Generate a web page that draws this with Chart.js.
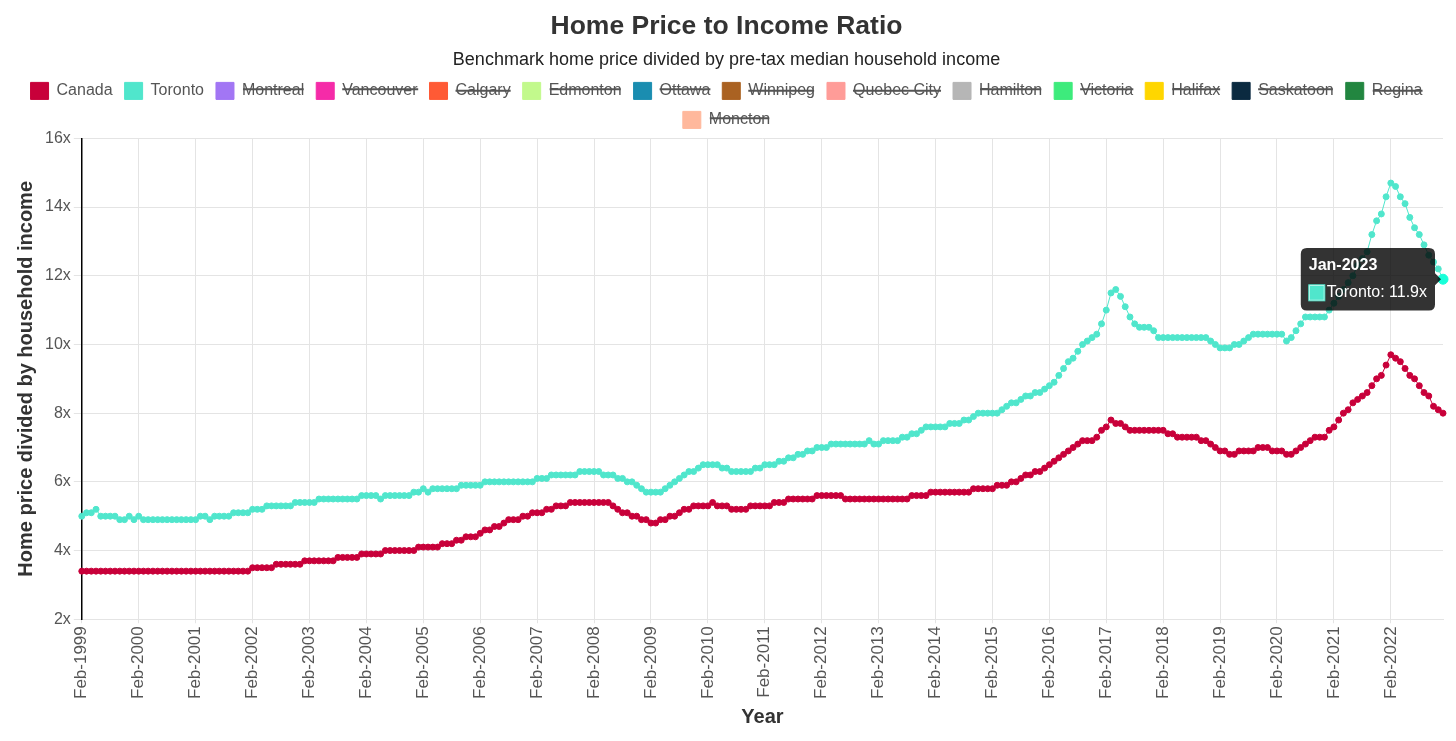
<!DOCTYPE html>
<html>
<head>
<meta charset="utf-8">
<title>Home Price to Income Ratio</title>
<script src="https://cdn.jsdelivr.net/npm/chart.js@4.4.1/dist/chart.umd.min.js"></script>
<style>
    html, body { margin: 0; padding: 0; background: #fff; }
    #wrap { width: 1456px; height: 741px; }
</style>
</head>
<body>
<div id="wrap"><canvas id="ratioChart" width="1456" height="741"></canvas></div>
<script>
// monthly series, Feb-1999 .. Jan-2023 (one row = Feb..Jan)
const canadaRatio = [
    3.4,3.4,3.4,3.4,3.4,3.4,3.4,3.4,3.4,3.4,3.4,3.4, // 1999
    3.4,3.4,3.4,3.4,3.4,3.4,3.4,3.4,3.4,3.4,3.4,3.4, // 2000
    3.4,3.4,3.4,3.4,3.4,3.4,3.4,3.4,3.4,3.4,3.4,3.4, // 2001
    3.5,3.5,3.5,3.5,3.5,3.6,3.6,3.6,3.6,3.6,3.6,3.7, // 2002
    3.7,3.7,3.7,3.7,3.7,3.7,3.8,3.8,3.8,3.8,3.8,3.9, // 2003
    3.9,3.9,3.9,3.9,4.0,4.0,4.0,4.0,4.0,4.0,4.0,4.1, // 2004
    4.1,4.1,4.1,4.1,4.2,4.2,4.2,4.3,4.3,4.4,4.4,4.4, // 2005
    4.5,4.6,4.6,4.7,4.7,4.8,4.9,4.9,4.9,5.0,5.0,5.1, // 2006
    5.1,5.1,5.2,5.2,5.3,5.3,5.3,5.4,5.4,5.4,5.4,5.4, // 2007
    5.4,5.4,5.4,5.4,5.3,5.2,5.1,5.1,5.0,5.0,4.9,4.9, // 2008
    4.8,4.8,4.9,4.9,5.0,5.0,5.1,5.2,5.2,5.3,5.3,5.3, // 2009
    5.3,5.4,5.3,5.3,5.3,5.2,5.2,5.2,5.2,5.3,5.3,5.3, // 2010
    5.3,5.3,5.4,5.4,5.4,5.5,5.5,5.5,5.5,5.5,5.5,5.6, // 2011
    5.6,5.6,5.6,5.6,5.6,5.5,5.5,5.5,5.5,5.5,5.5,5.5, // 2012
    5.5,5.5,5.5,5.5,5.5,5.5,5.5,5.6,5.6,5.6,5.6,5.7, // 2013
    5.7,5.7,5.7,5.7,5.7,5.7,5.7,5.7,5.8,5.8,5.8,5.8, // 2014
    5.8,5.9,5.9,5.9,6.0,6.0,6.1,6.2,6.2,6.3,6.3,6.4, // 2015
    6.5,6.6,6.7,6.8,6.9,7.0,7.1,7.2,7.2,7.2,7.3,7.5, // 2016
    7.6,7.8,7.7,7.7,7.6,7.5,7.5,7.5,7.5,7.5,7.5,7.5, // 2017
    7.5,7.4,7.4,7.3,7.3,7.3,7.3,7.3,7.2,7.2,7.1,7.0, // 2018
    6.9,6.9,6.8,6.8,6.9,6.9,6.9,6.9,7.0,7.0,7.0,6.9, // 2019
    6.9,6.9,6.8,6.8,6.9,7.0,7.1,7.2,7.3,7.3,7.3,7.5, // 2020
    7.6,7.8,8.0,8.1,8.3,8.4,8.5,8.6,8.8,9.0,9.1,9.4, // 2021
    9.7,9.6,9.5,9.3,9.1,9.0,8.8,8.6,8.5,8.2,8.1,8.0  // 2022
];

const torontoRatio = [
    5.0,5.1,5.1,5.2,5.0,5.0,5.0,5.0,4.9,4.9,5.0,4.9, // 1999
    5.0,4.9,4.9,4.9,4.9,4.9,4.9,4.9,4.9,4.9,4.9,4.9, // 2000
    4.9,5.0,5.0,4.9,5.0,5.0,5.0,5.0,5.1,5.1,5.1,5.1, // 2001
    5.2,5.2,5.2,5.3,5.3,5.3,5.3,5.3,5.3,5.4,5.4,5.4, // 2002
    5.4,5.4,5.5,5.5,5.5,5.5,5.5,5.5,5.5,5.5,5.5,5.6, // 2003
    5.6,5.6,5.6,5.5,5.6,5.6,5.6,5.6,5.6,5.6,5.7,5.7, // 2004
    5.8,5.7,5.8,5.8,5.8,5.8,5.8,5.8,5.9,5.9,5.9,5.9, // 2005
    5.9,6.0,6.0,6.0,6.0,6.0,6.0,6.0,6.0,6.0,6.0,6.0, // 2006
    6.1,6.1,6.1,6.2,6.2,6.2,6.2,6.2,6.2,6.3,6.3,6.3, // 2007
    6.3,6.3,6.2,6.2,6.2,6.1,6.1,6.0,6.0,5.9,5.8,5.7, // 2008
    5.7,5.7,5.7,5.8,5.9,6.0,6.1,6.2,6.3,6.3,6.4,6.5, // 2009
    6.5,6.5,6.5,6.4,6.4,6.3,6.3,6.3,6.3,6.3,6.4,6.4, // 2010
    6.5,6.5,6.5,6.6,6.6,6.7,6.7,6.8,6.8,6.9,6.9,7.0, // 2011
    7.0,7.0,7.1,7.1,7.1,7.1,7.1,7.1,7.1,7.1,7.2,7.1, // 2012
    7.1,7.2,7.2,7.2,7.2,7.3,7.3,7.4,7.4,7.5,7.6,7.6, // 2013
    7.6,7.6,7.6,7.7,7.7,7.7,7.8,7.8,7.9,8.0,8.0,8.0, // 2014
    8.0,8.0,8.1,8.2,8.3,8.3,8.4,8.5,8.5,8.6,8.6,8.7, // 2015
    8.8,8.9,9.1,9.3,9.5,9.6,9.8,10.0,10.1,10.2,10.3,10.6, // 2016
    11.0,11.5,11.6,11.4,11.1,10.8,10.6,10.5,10.5,10.5,10.4,10.2, // 2017
    10.2,10.2,10.2,10.2,10.2,10.2,10.2,10.2,10.2,10.2,10.1,10.0, // 2018
    9.9,9.9,9.9,10.0,10.0,10.1,10.2,10.3,10.3,10.3,10.3,10.3, // 2019
    10.3,10.3,10.1,10.2,10.4,10.6,10.8,10.8,10.8,10.8,10.8,11.0, // 2020
    11.2,11.4,11.6,11.8,12.0,12.3,12.5,12.7,13.2,13.6,13.8,14.3, // 2021
    14.7,14.6,14.3,14.1,13.7,13.4,13.2,12.9,12.6,12.4,12.2,11.9  // 2022
];

// cities switched off in the legend
const hiddenCities = ['Montreal', 'Vancouver', 'Calgary', 'Edmonton', 'Ottawa', 'Winnipeg',
    'Quebec City', 'Hamilton', 'Victoria', 'Halifax', 'Saskatoon', 'Regina', 'Moncton'];
const hiddenColors = ['#a276f4', '#f52ba8', '#ff5a35', '#c2f98c', '#1a8db0', '#aa6222',
    '#ff9c98', '#b6b6b6', '#3deb7c', '#ffd600', '#0b2a40', '#228640', '#ffb89c'];

const monthNames = ['Jan','Feb','Mar','Apr','May','Jun','Jul','Aug','Sep','Oct','Nov','Dec'];
const startYear = 1999, startMonth = 1; // Feb
const yTicks = [2, 4, 6, 8, 10, 12, 14, 16];

const labels = canadaRatio.map(function(_, i) {
    const m = startMonth + i;
    return monthNames[m % 12] + '-' + (startYear + Math.floor(m / 12));
});

const FONT = "'Liberation Sans', Arial, Helvetica, sans-serif";

function lineSet(label, color, data, hidden) {
    return {
        label: label,
        data: data,
        borderColor: color,
        backgroundColor: color,
        borderWidth: 1,
        pointRadius: 3,
        pointBorderWidth: 1,
        pointHoverRadius: 5,
        pointBackgroundColor: color,
        tension: 0,
        hidden: hidden
    };
}

const datasets = [
    lineSet('Canada', '#c8003a', canadaRatio, false),
    lineSet('Toronto', '#50e6cc', torontoRatio, false)
];
hiddenCities.forEach(function(name, i) {
    datasets.push(lineSet(name, hiddenColors[i], [], true));
});

const ctx = document.getElementById('ratioChart').getContext('2d');
const chart = new Chart(ctx, {
    type: 'line',
    data: { labels: labels, datasets: datasets },
    options: {
        responsive: false,
        animation: false,
        layout: { padding: { left: 10, right: 13, top: 1, bottom: 12 } },
        interaction: { mode: 'nearest', intersect: true },
        plugins: {
            title: {
                display: true,
                text: 'Home Price to Income Ratio',
                color: '#333',
                font: { family: FONT, size: 26.5, weight: 'bold' },
                padding: { top: 10, bottom: 6 }
            },
            subtitle: {
                display: true,
                text: 'Benchmark home price divided by pre-tax median household income',
                color: '#222',
                font: { family: FONT, size: 18 },
                padding: { top: 0, bottom: 0 }
            },
            legend: {
                display: true,
                labels: {
                    color: '#555',
                    boxWidth: 18,
                    boxHeight: 17,
                    padding: 12,
                    font: { family: FONT, size: 16 }
                }
            },
            tooltip: {
                backgroundColor: 'rgba(0,0,0,0.8)',
                titleFont: { family: FONT, size: 16, weight: 'bold' },
                bodyFont: { family: FONT, size: 16 },
                titleMarginBottom: 8,
                padding: 8,
                cornerRadius: 6,
                caretSize: 6,
                boxWidth: 16,
                boxHeight: 16,
                callbacks: {
                    label: function(c) { return c.dataset.label + ': ' + c.parsed.y + 'x'; }
                }
            }
        },
        scales: {
            x: {
                title: {
                    display: true,
                    text: 'Year',
                    color: '#333',
                    font: { family: FONT, size: 20, weight: 'bold' },
                    padding: { top: 3, bottom: 0 }
                },
                grid: { color: '#e4e4e4', tickLength: 4 },
                border: { color: '#e4e4e4' },
                ticks: {
                    autoSkip: false,
                    maxRotation: 90,
                    minRotation: 90,
                    padding: 3,
                    color: '#555',
                    font: { family: FONT, size: 17 },
                    callback: function(value, index) {
                        return index % 12 === 0 ? this.getLabelForValue(value) : null;
                    }
                }
            },
            y: {
                min: yTicks[0],
                max: yTicks[yTicks.length - 1],
                title: {
                    display: true,
                    text: 'Home price divided by household income',
                    color: '#333',
                    font: { family: FONT, size: 20, weight: 'bold' }
                },
                grid: { color: '#e4e4e4' },
                border: { color: '#000', width: 1.5 },
                afterBuildTicks: function(axis) {
                    axis.ticks = yTicks.map(function(v) { return { value: v }; });
                },
                ticks: {
                    color: '#555',
                    font: { family: FONT, size: 16 },
                    callback: function(v) { return v + 'x'; }
                }
            }
        }
    }
});

// show the tooltip for the last Toronto point
const last = torontoRatio.length - 1;
const pt = chart.getDatasetMeta(1).data[last];
chart.setActiveElements([{ datasetIndex: 1, index: last }]);
chart.tooltip.setActiveElements([{ datasetIndex: 1, index: last }], { x: pt.x, y: pt.y });
chart.update();
</script>
</body>
</html>
